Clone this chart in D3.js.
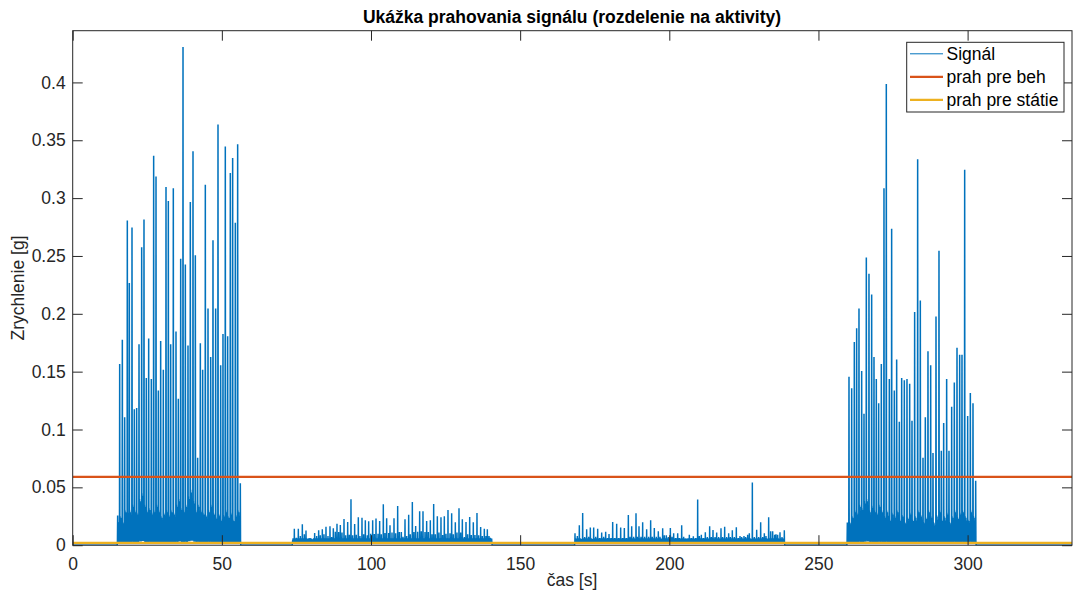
<!DOCTYPE html>
<html>
<head>
<meta charset="utf-8">
<script src="https://cdn.jsdelivr.net/npm/d3@7"></script>
<style>
  html, body { margin: 0; padding: 0; background: #fff; }
  svg { display: block; font-family: "Liberation Sans", Arial, Helvetica, sans-serif; }
</style>
</head>
<body>
<svg id="chart" width="1073" height="601"></svg>
<script>
// Axis ticks
const xTicks = [0, 50, 100, 150, 200, 250, 300];
const yTicks = [0, 0.05, 0.1, 0.15, 0.2, 0.25, 0.3, 0.35, 0.4];
const yTickLabels = ["0", "0.05", "0.1", "0.15", "0.2", "0.25", "0.3", "0.35", "0.4"];

// Thresholds
const runThreshold = 0.059;
const standThreshold = 0.002;

// Running bout 1: step impacts (time [s], peak [g]) and the level of the dense band between steps
const run1Times = [15.07, 15.75, 16.64, 17.42, 18.31, 18.98, 19.88, 20.66, 21.44, 22.23, 23.12, 23.90, 24.68,
  25.47, 26.36, 27.14, 27.93, 28.71, 29.49, 30.38, 31.28, 32.06, 32.84, 33.73, 34.63, 35.41, 36.20, 36.98,
  37.76, 38.65, 39.43, 40.33, 41.11, 41.89, 42.79, 43.57, 44.46, 45.36, 46.25, 47.03, 47.92, 48.71, 49.60,
  50.38, 51.16, 51.95, 52.84, 53.62, 54.52, 55.30, 56.19];
const run1Peaks = [0.025, 0.156, 0.177, 0.110, 0.280, 0.226, 0.274, 0.117, 0.118, 0.173, 0.257, 0.281, 0.144,
  0.178, 0.143, 0.336, 0.318, 0.133, 0.176, 0.151, 0.309, 0.297, 0.173, 0.308, 0.184, 0.126, 0.247, 0.430,
  0.242, 0.172, 0.296, 0.340, 0.250, 0.075, 0.174, 0.151, 0.311, 0.204, 0.162, 0.263, 0.204, 0.363, 0.155,
  0.182, 0.344, 0.180, 0.321, 0.334, 0.278, 0.346, 0.053];
const run1Band = [0.020, 0.025, 0.020, 0.030, 0.028, 0.030, 0.035, 0.030, 0.028, 0.040, 0.045, 0.035, 0.030,
  0.032, 0.028, 0.030, 0.035, 0.030, 0.025, 0.028, 0.030, 0.026, 0.030, 0.028, 0.035, 0.040, 0.032, 0.030,
  0.035, 0.042, 0.048, 0.038, 0.030, 0.035, 0.030, 0.028, 0.026, 0.030, 0.035, 0.028, 0.024, 0.027, 0.022,
  0.026, 0.030, 0.025, 0.028, 0.022, 0.026, 0.030, 0.025];

// Running bout 2
const run2Times = [259.68, 260.24, 261.14, 262.03, 262.81, 263.59, 264.49, 265.27, 266.05, 266.94, 267.84,
  268.62, 269.40, 270.19, 271.08, 271.97, 272.75, 273.76, 274.54, 275.44, 276.22, 277.11, 277.90, 278.79,
  279.68, 280.58, 281.36, 282.25, 283.26, 284.15, 285.05, 285.83, 286.72, 287.62, 288.40, 289.41, 290.41,
  291.19, 291.98, 292.98, 293.76, 294.66, 295.55, 296.45, 297.34, 298.12, 299.02, 300.02, 300.92, 301.81, 302.71];
const run2Peaks = [0.019, 0.145, 0.135, 0.175, 0.187, 0.204, 0.150, 0.113, 0.248, 0.234, 0.216, 0.162, 0.143,
  0.122, 0.156, 0.308, 0.398, 0.143, 0.273, 0.133, 0.160, 0.106, 0.144, 0.142, 0.143, 0.139, 0.107, 0.201,
  0.333, 0.211, 0.075, 0.110, 0.167, 0.155, 0.079, 0.197, 0.254, 0.081, 0.105, 0.143, 0.081, 0.119, 0.140,
  0.170, 0.164, 0.164, 0.324, 0.111, 0.131, 0.122, 0.055];
const run2Band = [0.015, 0.020, 0.025, 0.030, 0.028, 0.035, 0.032, 0.038, 0.040, 0.030, 0.034, 0.030, 0.028,
  0.035, 0.030, 0.025, 0.030, 0.022, 0.028, 0.025, 0.030, 0.022, 0.026, 0.020, 0.024, 0.028, 0.022, 0.025,
  0.030, 0.026, 0.020, 0.024, 0.030, 0.025, 0.020, 0.026, 0.030, 0.022, 0.025, 0.028, 0.020, 0.025, 0.030,
  0.024, 0.028, 0.030, 0.025, 0.022, 0.030, 0.025, 0.020];

// Within-stride profile of the acceleration between two impacts (fraction of stride, fraction of band level)
const strideFrac  = [0.12, 0.17, 0.22, 0.27, 0.32, 0.37, 0.42, 0.47, 0.52, 0.57, 0.62, 0.67, 0.72, 0.77, 0.82, 0.87, 0.92];
const strideLevel = [0.15, 1.00, 0.10, 0.80, 0.20, 0.95, 0.08, 0.70, 0.25, 0.85, 0.10, 0.60, 0.20, 0.75, 0.08, 0.50, 0.15];

// Walking bout 1: individual peaks (time [s], value [g])
const walk1 = [[73.74,0.0042],[74.30,0.0137],[74.97,0.0059],[75.64,0.0137],[76.31,0.0074],[76.98,0.0175],
  [77.65,0.0088],[78.21,0.0120],[78.99,0.0051],[79.55,0.0056],[80.67,0.0036],[81.11,0.0100],[81.78,0.0074],
  [82.45,0.0123],[83.01,0.0080],[83.68,0.0131],[84.24,0.0088],[84.91,0.0154],[85.58,0.0074],[86.25,0.0157],
  [86.81,0.0065],[87.37,0.0140],[88.04,0.0111],[88.60,0.0180],[89.16,0.0108],[89.72,0.0169],[90.28,0.0103],
  [90.95,0.0221],[91.51,0.0080],[92.18,0.0195],[92.74,0.0085],[93.29,0.0391],[93.85,0.0080],[94.52,0.0177],
  [95.08,0.0085],[95.75,0.0235],[96.31,0.0074],[96.98,0.0232],[97.54,0.0088],[98.10,0.0209],[98.77,0.0080],
  [99.22,0.0201],[99.89,0.0094],[100.56,0.0209],[101.12,0.0091],[101.68,0.0224],[102.35,0.0094],[102.90,0.0203],
  [103.46,0.0088],[104.13,0.0347],[104.69,0.0100],[105.25,0.0226],[105.92,0.0100],[106.37,0.0166],[107.04,0.0103],
  [107.71,0.0226],[108.27,0.0097],[108.94,0.0333],[109.50,0.0108],[110.17,0.0108],[110.73,0.0068],[111.40,0.0218],
  [111.96,0.0074],[112.63,0.0258],[113.18,0.0088],[113.86,0.0368],[114.41,0.0108],[114.97,0.0160],[115.64,0.0111],
  [116.31,0.0287],[116.87,0.0114],[117.43,0.0287],[118.10,0.0108],[118.66,0.0203],[119.22,0.0108],[119.89,0.0209],
  [120.45,0.0088],[121.01,0.0350],[121.57,0.0088],[122.24,0.0244],[122.79,0.0103],[123.46,0.0235],[124.02,0.0082],
  [124.58,0.0244],[125.14,0.0094],[125.81,0.0298],[126.48,0.0097],[127.04,0.0270],[127.60,0.0088],[128.27,0.0192],
  [128.83,0.0103],[129.50,0.0313],[130.06,0.0103],[130.62,0.0218],[131.29,0.0065],[131.85,0.0195],[132.41,0.0088],
  [133.08,0.0238],[133.63,0.0082],[134.30,0.0192],[134.86,0.0082],[135.53,0.0273],[136.09,0.0080],[136.76,0.0152],
  [137.32,0.0074],[137.99,0.0137],[138.55,0.0074],[139.00,0.0131],[139.56,0.0074],[140.01,0.0059],[140.46,0.0051]];

// Walking bout 2
const walk2 = [[168.39,0.0097],[169.17,0.0074],[169.84,0.0166],[170.96,0.0272],[171.63,0.0065],[172.30,0.0131],
  [172.97,0.0068],[173.53,0.0146],[174.65,0.0146],[175.32,0.0068],[175.99,0.0137],[176.66,0.0056],[177.33,0.0103],
  [178.00,0.0068],[178.67,0.0111],[179.34,0.0056],[179.79,0.0091],[180.46,0.0056],[181.02,0.0195],[181.69,0.0056],
  [182.36,0.0180],[183.03,0.0056],[183.70,0.0146],[184.37,0.0056],[184.93,0.0143],[185.60,0.0056],[186.27,0.0255],
  [186.83,0.0068],[187.39,0.0157],[188.06,0.0068],[188.84,0.0270],[189.28,0.0068],[189.84,0.0157],[190.51,0.0068],
  [191.07,0.0192],[191.74,0.0068],[192.41,0.0131],[193.08,0.0068],[193.75,0.0209],[194.31,0.0068],[194.98,0.0143],
  [195.65,0.0068],[196.32,0.0114],[196.88,0.0068],[197.78,0.0140],[198.34,0.0080],[199.01,0.0080],[199.68,0.0065],
  [200.35,0.0143],[200.91,0.0068],[201.46,0.0097],[202.14,0.0056],[202.81,0.0097],[203.36,0.0056],[204.15,0.0166],
  [204.82,0.0068],[205.38,0.0045],[206.05,0.0039],[206.72,0.0085],[207.39,0.0056],[208.06,0.0071],[208.84,0.0056],
  [209.51,0.0390],[210.07,0.0074],[210.74,0.0085],[211.41,0.0056],[212.08,0.0105],[212.75,0.0065],[213.53,0.0157],
  [214.09,0.0065],[214.65,0.0126],[215.32,0.0065],[215.88,0.0103],[216.55,0.0065],[217.33,0.0140],[217.89,0.0065],
  [218.56,0.0154],[219.23,0.0065],[219.90,0.0097],[220.46,0.0065],[221.13,0.0123],[221.80,0.0065],[222.47,0.0149],
  [223.14,0.0056],[223.70,0.0074],[224.26,0.0065],[225.04,0.0074],[225.60,0.0065],[226.27,0.0085],[226.83,0.0097],
  [227.84,0.0535],[228.51,0.0065],[229.29,0.0128],[229.96,0.0065],[230.63,0.0192],[231.30,0.0065],[231.86,0.0097],
  [232.42,0.0074],[233.31,0.0235],[233.98,0.0114],[234.65,0.0114],[235.32,0.0085],[235.77,0.0088],[236.33,0.0085],
  [237.11,0.0105],[237.78,0.0065],[238.56,0.0123]];

// Low samples that fill the gaps between walking peaks
const walkFloor = [0.003, 0.006, 0.0015, 0.0055, 0.002, 0.005, 0.0015];

const recordEnd = 335;

// ---------------------------------------------------------------
const svg = d3.select("#chart");
const ink = "#262626";
const fontSize = 17.5;

const x = d3.scaleLinear().domain([0, recordEnd]).range([72.7, 1072]);
const y = d3.scaleLinear().domain([0, 0.4447]).range([545.2, 30.7]);

// Assemble the time series
const signal = [[0, 0]];
function addRun(times, peaks, band) {
  signal.push([times[0] - 0.15, 0]);
  times.forEach((t, k) => {
    signal.push([t - 0.09, 0.004]);
    signal.push([t - 0.02, peaks[k]]);
    signal.push([t + 0.02, peaks[k]]);
    signal.push([t + 0.09, 0.004]);
    if (k < times.length - 1) {
      const span = times[k + 1] - t;
      strideFrac.forEach((f, j) => {
        signal.push([t + f * span, Math.max(0.002, band[k] * strideLevel[j])]);
      });
    }
  });
  signal.push([times[times.length - 1] + 0.15, 0]);
}
function addWalk(bars) {
  signal.push([bars[0][0] - 0.15, 0]);
  bars.forEach(([t, v], k) => {
    signal.push([t - 0.06, 0.003]);
    signal.push([t - 0.01, v]);
    signal.push([t + 0.01, v]);
    signal.push([t + 0.06, 0.003]);
    if (k < bars.length - 1) {
      const span = bars[k + 1][0] - t;
      walkFloor.forEach((w, j) => {
        signal.push([t + span * (j + 1) / (walkFloor.length + 1), w]);
      });
    }
  });
  signal.push([bars[bars.length - 1][0] + 0.15, 0]);
}
addRun(run1Times, run1Peaks, run1Band);
addWalk(walk1);
addWalk(walk2);
addRun(run2Times, run2Peaks, run2Band);
signal.push([recordEnd, 0]);

const line = d3.line().x(d => x(d[0])).y(d => y(d[1]));

svg.append("clipPath").attr("id", "plotArea")
  .append("rect").attr("x", 72.7).attr("y", 30.7).attr("width", 1072 - 72.7).attr("height", 545.2 - 30.7);

const plot = svg.append("g").attr("clip-path", "url(#plotArea)");

plot.append("path")
  .datum(signal)
  .attr("fill", "none")
  .attr("stroke", "#0072BD")
  .attr("stroke-width", 1.4)
  .attr("stroke-linejoin", "miter")
  .attr("d", line);

plot.append("path")
  .datum([[0, runThreshold], [recordEnd, runThreshold]])
  .attr("fill", "none").attr("stroke", "#D95319").attr("stroke-width", 2.2)
  .attr("d", line);

plot.append("path")
  .datum([[0, standThreshold], [recordEnd, standThreshold]])
  .attr("fill", "none").attr("stroke", "#EDB120").attr("stroke-width", 2.2)
  .attr("d", line);

// Axes (inward ticks on all four sides)
function styleAxis(g) {
  g.select(".domain").remove();
  g.selectAll(".tick line").attr("stroke", ink);
  g.selectAll(".tick text").attr("fill", ink).style("font-size", fontSize + "px")
    .style("font-family", "'Liberation Sans', Arial, Helvetica, sans-serif");
}
svg.append("g").attr("transform", "translate(0,545.2)")
  .call(d3.axisBottom(x).tickValues(xTicks).tickFormat(d3.format("d")).tickSizeInner(-10).tickSizeOuter(0).tickPadding(12.4))
  .call(styleAxis);
svg.append("g").attr("transform", "translate(0,30.7)")
  .call(d3.axisTop(x).tickValues(xTicks).tickFormat("").tickSizeInner(-10).tickSizeOuter(0))
  .call(styleAxis);
svg.append("g").attr("transform", "translate(72.7,0)")
  .call(d3.axisLeft(y).tickValues(yTicks).tickFormat((d, i) => yTickLabels[i]).tickSizeInner(-10).tickSizeOuter(0).tickPadding(7))
  .call(styleAxis);
svg.append("g").attr("transform", "translate(1072,0)")
  .call(d3.axisRight(y).tickValues(yTicks).tickFormat("").tickSizeInner(-10).tickSizeOuter(0))
  .call(styleAxis);

svg.append("rect")
  .attr("x", 72.7).attr("y", 30.7).attr("width", 1072 - 72.7).attr("height", 545.2 - 30.7)
  .attr("fill", "none").attr("stroke", ink).attr("stroke-width", 1);

// Title and axis labels
svg.append("text").attr("x", 572).attr("y", 23).attr("text-anchor", "middle")
  .attr("fill", "#000").style("font-weight", "bold").style("font-size", "17.5px")
  .text("Ukážka prahovania signálu (rozdelenie na aktivity)");
svg.append("text").attr("x", 572).attr("y", 586).attr("text-anchor", "middle")
  .attr("fill", ink).style("font-size", fontSize + "px").text("čas [s]");
svg.append("text").attr("transform", "translate(24,288) rotate(-90)").attr("text-anchor", "middle")
  .attr("fill", ink).style("font-size", fontSize + "px").text("Zrychlenie [g]");

// Legend
const legendItems = [
  { label: "Signál", color: "#0072BD", width: 1 },
  { label: "prah pre beh", color: "#D95319", width: 2.2 },
  { label: "prah pre státie", color: "#EDB120", width: 2.2 }
];
const legend = svg.append("g");
legend.append("rect").attr("x", 906.7).attr("y", 42.3).attr("width", 1064 - 906.7).attr("height", 112 - 42.3)
  .attr("fill", "#fff").attr("stroke", ink).attr("stroke-width", 1);
legendItems.forEach((it, i) => {
  const cy = 53.8 + i * 23;
  legend.append("line").attr("x1", 910).attr("x2", 943).attr("y1", cy).attr("y2", cy)
    .attr("stroke", it.color).attr("stroke-width", it.width);
  legend.append("text").attr("x", 946.5).attr("y", cy + 6.2).attr("fill", "#000")
    .style("font-size", fontSize + "px").text(it.label);
});
</script>
</body>
</html>
